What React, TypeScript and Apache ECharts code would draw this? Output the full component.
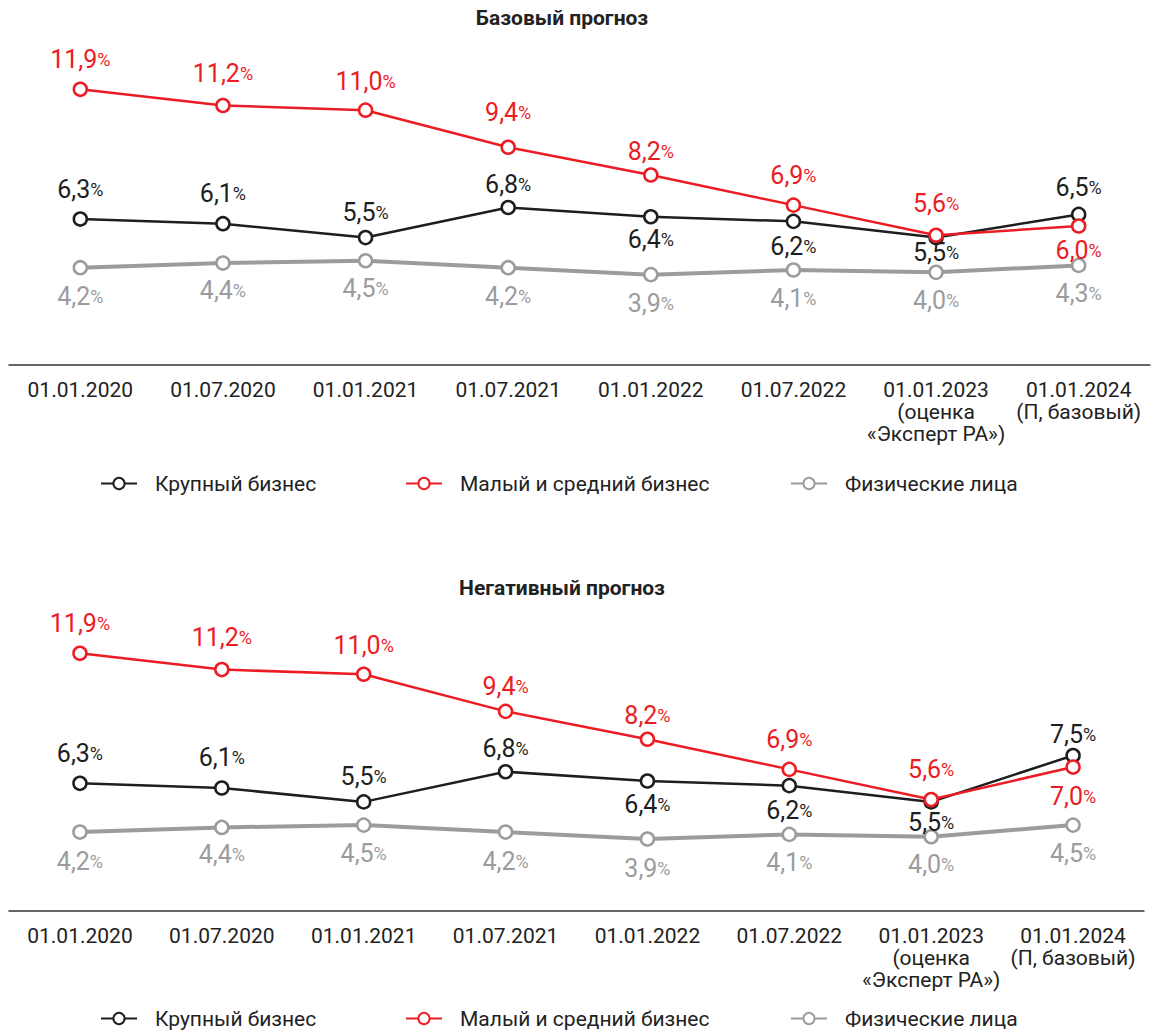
import React, { useEffect, useRef } from "react";
import * as echarts from "echarts";

const categories = [
  "01.01.2020",
  "01.07.2020",
  "01.01.2021",
  "01.07.2021",
  "01.01.2022",
  "01.07.2022",
  "01.01.2023\n(оценка\n«Эксперт РА»)",
  "01.01.2024\n(П, базовый)",
];

const seriesNames = ["Крупный бизнес", "Малый и средний бизнес", "Физические лица"];

// Базовый прогноз
const baseLarge = [6.3, 6.1, 5.5, 6.8, 6.4, 6.2, 5.5, 6.5];
const baseSme = [11.9, 11.2, 11.0, 9.4, 8.2, 6.9, 5.6, 6.0];
const baseRetail = [4.2, 4.4, 4.5, 4.2, 3.9, 4.1, 4.0, 4.3];

// Негативный прогноз
const negLarge = [6.3, 6.1, 5.5, 6.8, 6.4, 6.2, 5.5, 7.5];
const negSme = [11.9, 11.2, 11.0, 9.4, 8.2, 6.9, 5.6, 7.0];
const negRetail = [4.2, 4.4, 4.5, 4.2, 3.9, 4.1, 4.0, 4.5];

const titles = ["Базовый прогноз", "Негативный прогноз"];

// label vertical offsets (style)
const dyBaseLarge = [-30, -30, -25, -23, 23, 25, 15, -27];
const dyBaseSme = [-30, -32, -29, -35, -24, -30, -32, 24];
const dyRetail = [29, 27, 28, 29, 29, 28, 28, 28];
const dyNegLarge = [-30, -30, -25, -23, 23, 25, 21, -21];
const dyNegSme = [-30, -32, -29, -25, -24, -30, -30, 29];

const BLACK = "#1e1e1e";
const RED = "#ec1c24";
const GRAY = "#9c9c9e";
const FONT = "Roboto";

function fmt(v: number) {
  return v.toFixed(1).replace(".", ",");
}

function makeSeries(
  name: string,
  values: number[],
  dys: number[],
  color: string,
  textColor: string,
  width: number,
  idx: number
) {
  return {
    type: "line",
    name,
    xAxisIndex: idx,
    yAxisIndex: idx,
    symbol: "circle",
    symbolSize: 13,
    color: color,
    lineStyle: { color, width },
    itemStyle: { color: "#fff", borderColor: color, borderWidth: 2.5 },
    z: color === GRAY ? 2 : color === BLACK ? 3 : 4,
    data: values.map((v, i) => ({
      value: v,
      label: {
        show: true,
        position: "inside",
        offset: [0, dys[i]],
        formatter: "{n|" + fmt(v) + "}{p|%}",
        rich: {
          n: { fontFamily: FONT, fontSize: 25, color: textColor },
          p: { fontFamily: FONT, fontSize: 18, color: textColor },
        },
      },
    })),
  };
}

export default function App() {
  const ref = useRef<HTMLDivElement>(null);
  useEffect(() => {
    if (!ref.current) return;
    const chart = echarts.init(ref.current, undefined, { renderer: "svg" });
    const legendLefts = [100, 405, 790];
    const legendTops = [473, 1008];
    const legends: any[] = [];
    legendTops.forEach((top) => {
      seriesNames.forEach((n, i) => {
        legends.push({
          data: [n],
          left: legendLefts[i],
          top,
          padding: 0,
          itemWidth: 36,
          itemHeight: 14,
          selectedMode: false,
          textStyle: {
            fontFamily: FONT,
            fontSize: 21,
            color: "#222",
            padding: [0, 0, 0, 13],
          },
        });
      });
    });

    const xAxisCommon = {
      type: "category",
      data: categories,
      boundaryGap: true,
      axisLine: { show: true, lineStyle: { color: "#333", width: 1.5 } },
      axisTick: { show: false },
      axisLabel: {
        interval: 0,
        margin: 14,
        fontFamily: FONT,
        fontSize: 21,
        lineHeight: 22,
        color: "#222",
      },
    };

    const titleStyle = {
      fontFamily: FONT,
      fontWeight: "bold",
      fontSize: 21,
      fill: "#222",
      textAlign: "center",
      textVerticalAlign: "middle",
    };

    chart.setOption({
      animation: false,
      backgroundColor: "#fff",
      graphic: [
        { type: "text", x: 562, y: 18, style: { ...titleStyle, text: titles[0] } },
        { type: "text", x: 562, y: 588, style: { ...titleStyle, text: titles[1] } },
      ],
      legend: legends,
      grid: [
        { left: 9, right: 12, top: 87, height: 278 },
        { left: 9, right: 18, top: 651, height: 260 },
      ],
      xAxis: [
        { ...xAxisCommon, gridIndex: 0 },
        { ...xAxisCommon, gridIndex: 1 },
      ],
      yAxis: [
        { type: "value", gridIndex: 0, min: 0, max: 12, show: false },
        { type: "value", gridIndex: 1, min: 0.8, max: 12, show: false },
      ],
      series: [
        makeSeries(seriesNames[2], baseRetail, dyRetail, GRAY, GRAY, 4, 0),
        makeSeries(seriesNames[0], baseLarge, dyBaseLarge, BLACK, BLACK, 2.5, 0),
        makeSeries(seriesNames[1], baseSme, dyBaseSme, RED, RED, 2.5, 0),
        makeSeries(seriesNames[2], negRetail, dyRetail, GRAY, GRAY, 4, 1),
        makeSeries(seriesNames[0], negLarge, dyNegLarge, BLACK, BLACK, 2.5, 1),
        makeSeries(seriesNames[1], negSme, dyNegSme, RED, RED, 2.5, 1),
      ],
    });
    return () => chart.dispose();
  }, []);
  return (
    <div
      ref={ref}
      style={{ position: "fixed", left: 0, top: 0, width: 1162, height: 1032 }}
    />
  );
}
